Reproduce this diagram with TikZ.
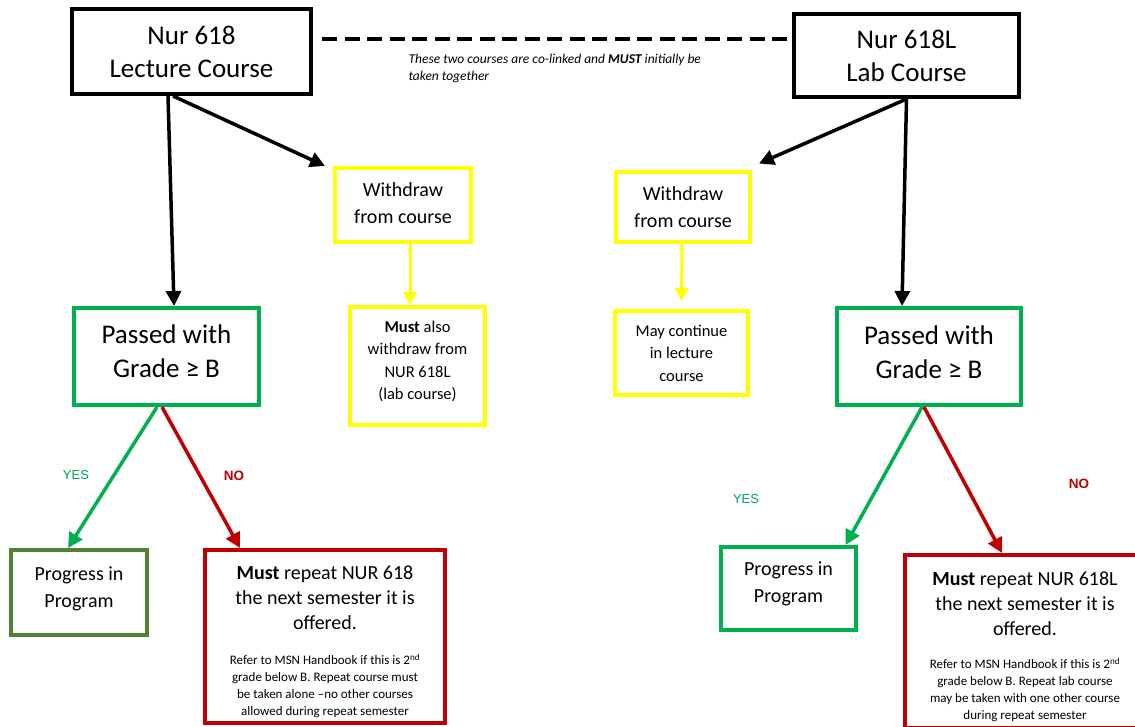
\documentclass[tikz,border=0pt]{standalone}
\usepackage{fontspec}
\setmainfont{Carlito}
\newfontfamily\arialfont{Liberation Sans}
\usetikzlibrary{arrows.meta}
\setlength{\parindent}{0pt}
\newcommand{\liftby}[1]{\par\vspace{#1}\hrule height 0pt}

\definecolor{ylw}{RGB}{255,255,0}
\definecolor{grn}{RGB}{0,176,80}
\definecolor{progolive}{RGB}{84,130,53}
\definecolor{dred}{RGB}{192,0,0}
\definecolor{yesgrn}{RGB}{0,160,90}

\begin{document}
\begin{tikzpicture}[x=1pt, y=-1pt,
    box/.style = {draw, line width=4pt, inner sep=0pt, align=flush center},
    course/.style = {box, draw=black, text width=220pt, font=\fontsize{27}{33}\selectfont},
    wdraw/.style = {box, draw=ylw, text width=126pt, font=\fontsize{20}{27}\selectfont},
    wnote/.style = {box, draw=ylw, text width=125pt, font=\fontsize{16.5}{22.5}\selectfont},
    passed/.style = {box, draw=grn, text width=175pt, font=\fontsize{27}{34}\selectfont},
    prog/.style = {box, text width=126pt, font=\fontsize{20}{27}\selectfont},
    redo/.style = {box, draw=dred, text width=236pt},
    arr/.style = {line width=3.5pt, -{Triangle[length=15pt,width=15pt]}},
    yarr/.style = {line width=3pt, draw=ylw, -{Triangle[length=13pt,width=13pt]}}]

    \useasboundingbox (0, 0) rectangle (1135, 726);
    \clip (0, 0) rectangle (1135, 726);

    \node[course, minimum width=239pt, minimum height=85pt] (lec) at (191.5, 51.5) {Nur 618\\Lecture Course};
    \node[course, minimum width=225pt, minimum height=83pt] (lab) at (906.5, 55.5) {Nur 618L\\Lab Course};

    \draw[line width=4pt, dash pattern=on 15pt off 7.5pt] ([xshift=9pt, yshift=12.5pt]lec.east) -- ([yshift=16.5pt]lab.west);
    \node[anchor=west, align=left, font=\fontsize{13.5}{17}\selectfont\itshape] (note) at (405, 68)
        {These two courses are co-linked and \textbf{MUST} initially be\\taken together};

    \node[wdraw, minimum width=136pt, minimum height=74pt] (wd1) at (403, 205) {Withdraw\\from course\liftby{4pt}};
    \node[wdraw, minimum width=134pt, minimum height=70pt] (wd2) at (683, 207) {Withdraw\\from course};
    \node[wnote, minimum width=135pt, minimum height=118pt] (also1) at (417.5, 366) {\textbf{Must} also\\withdraw from\\NUR 618L\\(lab course)\liftby{9pt}};
    \node[wnote, minimum width=133pt, minimum height=84pt] (cont2) at (681.5, 353) {May continue\\in lecture\\course};

    \node[passed, minimum width=185pt, minimum height=97pt] (pass1) at (166.5, 356.5) {Passed with\\Grade ≥ B\liftby{11pt}};
    \node[passed, minimum width=184pt, minimum height=97pt] (pass2) at (929, 356.5) {Passed with\\Grade ≥ B\liftby{8pt}};

    \node[prog, draw=progolive, minimum width=136pt, minimum height=85pt] (prog1) at (79, 592.5) {Progress in\\Program\liftby{8pt}};
    \node[prog, draw=grn, minimum width=135pt, minimum height=83pt] (prog2) at (788.5, 588.5) {Progress in\\Program\liftby{9pt}};

    \node[redo, minimum width=240pt, minimum height=173pt] (rep1) at (325, 636.5)
        {{\fontsize{20}{25}\selectfont \textbf{Must} repeat NUR 618\\the next semester it is\\offered.\par}\vspace{18pt}%
         {\fontsize{13}{17}\selectfont Refer to MSN Handbook if this is 2\textsuperscript{nd}\\grade below B. Repeat course must\\be taken alone –no other courses\\allowed during repeat semester\liftby{-11pt}}};
    \node[redo, minimum width=240pt, minimum height=173pt] (rep2) at (1025, 641.5)
        {{\fontsize{20}{25}\selectfont \textbf{Must} repeat NUR 618L\\the next semester it is\\offered.\par}\vspace{16pt}%
         {\fontsize{13}{17}\selectfont Refer to MSN Handbook if this is 2\textsuperscript{nd}\\grade below B. Repeat lab course\\may be taken with one other course\\during repeat semester\liftby{-11pt}}};

    \draw[arr] ([xshift=-23.5pt]lec.south) -- ([xshift=7.5pt]pass1.north);
    \draw[arr] ([xshift=-18.5pt]lec.south) -- ([xshift=-8pt]wd1.north west);
    \draw[arr] (lab.south) -- ([xshift=7pt, yshift=6.5pt]wd2.north east);
    \draw[arr] (lab.south) -- ([xshift=-27pt]pass2.north);

    \draw[yarr] ([xshift=7pt]wd1.south) -- ([xshift=-7.5pt]also1.north);
    \draw[yarr] ([xshift=-1pt]wd2.south) -- ([yshift=8pt]cont2.north);

    \draw[arr, draw=grn] ([xshift=-9.5pt]pass1.south) -- ([xshift=-11pt]prog1.north);
    \draw[arr, draw=dred] ([xshift=-4.5pt]pass1.south) -- ([xshift=37pt]rep1.north west);
    \draw[arr, draw=grn] ([xshift=-7pt]pass2.south) -- ([xshift=-12.5pt]prog2.north east);
    \draw[arr, draw=dred] ([xshift=-5pt]pass2.south) -- ([xshift=99pt]rep2.north west);

    \node[text=yesgrn, font=\arialfont\fontsize{13}{15}\selectfont] (yes1) at (76, 475) {YES};
    \node[text=dred, font=\arialfont\bfseries\fontsize{13.5}{15}\selectfont] (no1) at (234, 476) {NO};
    \node[text=yesgrn, font=\arialfont\fontsize{13}{15}\selectfont] (yes2) at (746, 499) {YES};
    \node[text=dred, font=\arialfont\bfseries\fontsize{13.5}{15}\selectfont] (no2) at (1079, 484) {NO};

\end{tikzpicture}
\end{document}
